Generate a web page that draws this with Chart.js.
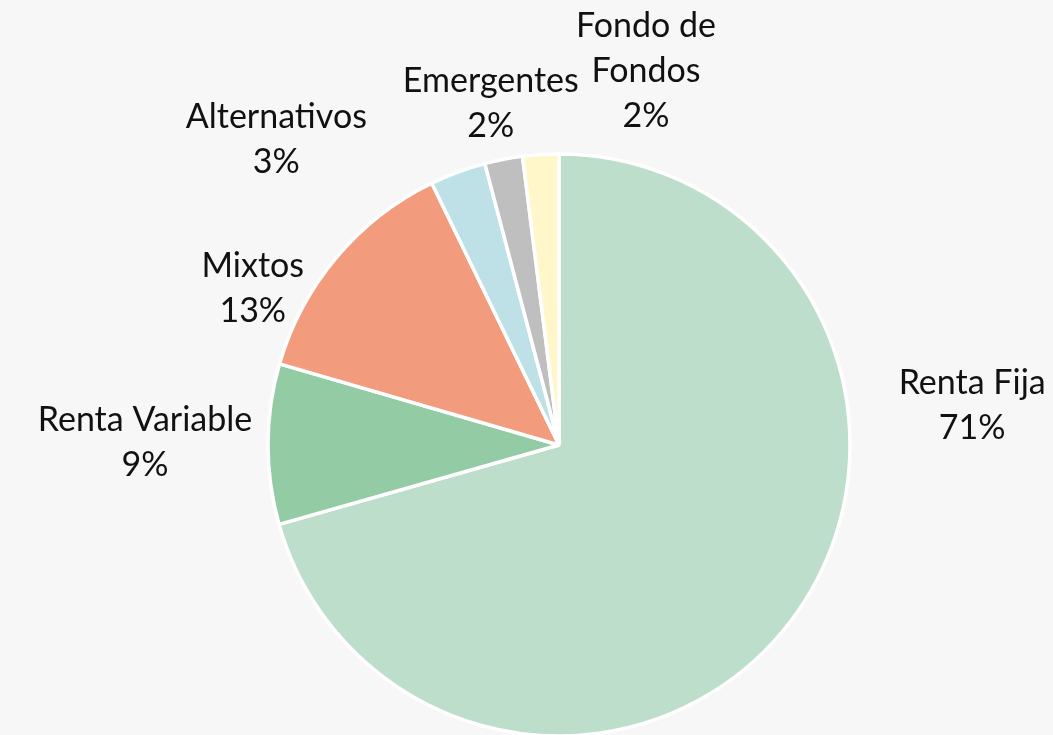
<!DOCTYPE html>
<html>
<head>
<meta charset="utf-8">
<script src="https://cdn.jsdelivr.net/npm/chart.js@4"></script>
<style>
    html, body { margin: 0; padding: 0; background: #f7f7f7; overflow: hidden; }
    #wrap { position: relative; width: 1053px; height: 735px; }
</style>
</head>
<body>
<div id="wrap"><canvas id="pieChart"></canvas></div>
<script>
// ========== DATA ==========
const categories = ["Renta Fija", "Renta Variable", "Mixtos", "Alternativos", "Emergentes", "Fondo de Fondos"];
const shares = [70.6, 8.9, 13.3, 3.1, 2.1, 2.0];
const labelLines = [["Renta Fija"], ["Renta Variable"], ["Mixtos"], ["Alternativos"], ["Emergentes"], ["Fondo de", "Fondos"]];
const sliceColors = ["#bddeca", "#93cba5", "#f29b7d", "#bee1e8", "#bfbfbf", "#fff7ca"];

// where each label sits: angle (deg, clockwise from top) and distance from the pie centre
const labelPlacement = [
    { angle: 84.6, dist: 415 },
    { angle: 270.3, dist: 414 },
    { angle: 297.1, dist: 344 },
    { angle: 317.2, dist: 416 },
    { angle: 348.7, dist: 348 },
    { angle: 13.1, dist: 384 }
];

// ========== LABEL PLUGIN ==========
const outsideLabels = {
    id: "outsideLabels",
    afterDatasetsDraw(chart) {
        const ctx = chart.ctx;
        const meta = chart.getDatasetMeta(0);
        const total = shares.reduce((s, v) => s + v, 0);
        ctx.save();
        ctx.font = "34px Lato";
        ctx.fillStyle = "#111";
        ctx.textAlign = "center";
        ctx.textBaseline = "middle";
        meta.data.forEach((arc, i) => {
            const p = labelPlacement[i];
            const a = p.angle * Math.PI / 180;
            const cx = arc.x + p.dist * Math.sin(a);
            const cy = arc.y - p.dist * Math.cos(a);
            const lines = labelLines[i].concat([Math.round(shares[i] / total * 100) + "%"]);
            const lh = 45;
            lines.forEach((txt, j) => {
                ctx.fillText(txt, cx, cy + (j - (lines.length - 1) / 2) * lh);
            });
        });
        ctx.restore();
    }
};

// ========== CHART ==========
const pieCtx = document.getElementById("pieChart").getContext("2d");
let pieChart = new Chart(pieCtx, {
    type: "pie",
    data: {
        labels: categories,
        datasets: [{
            data: shares,
            backgroundColor: sliceColors,
            borderColor: "#ffffff",
            borderWidth: 3.5,
            clip: false
        }]
    },
    options: {
        responsive: true,
        maintainAspectRatio: false,
        animation: false,
        radius: 291,
        layout: { padding: { left: 65, right: 0, top: 155, bottom: 0 } },
        plugins: {
            legend: { display: false },
            tooltip: { enabled: false }
        }
    },
    plugins: [outsideLabels]
});
</script>
</body>
</html>
